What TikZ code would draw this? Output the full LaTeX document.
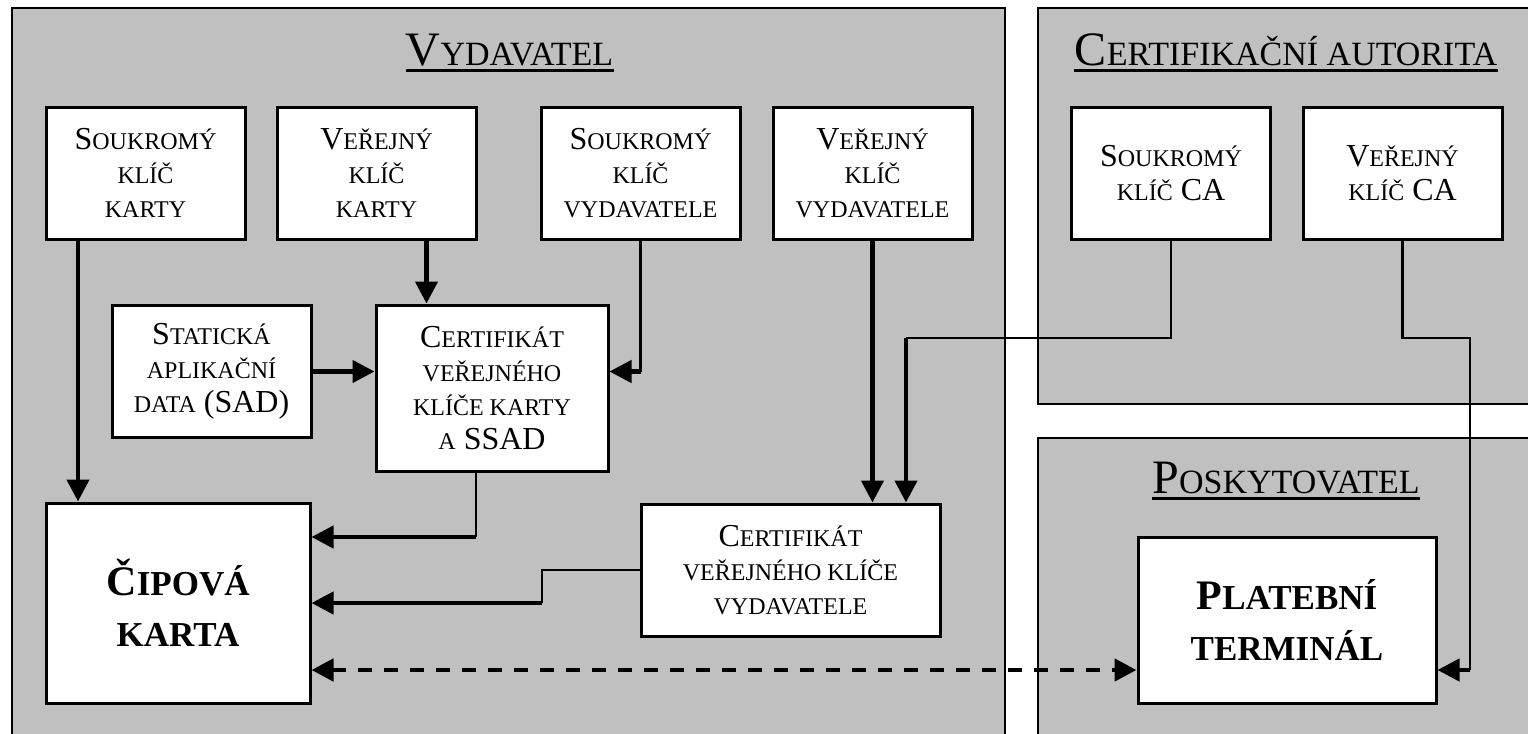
\documentclass[tikz,border=0pt]{standalone}
\usepackage{fontspec}
\setmainfont{Liberation Serif}
\usetikzlibrary{arrows.meta}
\definecolor{panelgray}{RGB}{192,192,192}
\newcommand{\kap}[2][12]{{\fontsize{#1}{17}\selectfont #2}}

\tikzset{
	panel/.style={draw=black, line width=1.2pt, fill=panelgray},
	box/.style={draw=black, line width=1.5pt, fill=white, align=center, inner sep=1pt,
		minimum width=99.5pt, minimum height=66pt, font=\fontsize{16}{17}\selectfont},
	bigbox/.style={box, font=\bfseries\fontsize{21}{25.5}\selectfont},
	title/.style={anchor=base, inner sep=0pt, font=\fontsize{24}{26}\selectfont},
	uline/.style={line width=1.35pt},
	arr/.style={line width=2.2pt, -{Triangle[length=11pt,width=11pt]}},
	wire/.style={line width=1.1pt},
	darr/.style={line width=2.4pt, dash pattern=on 7pt off 6pt,
		{Triangle[length=11pt,width=11pt]}-{Triangle[length=11pt,width=11pt]}}
}

\begin{document}
\begin{tikzpicture}[x=0.5pt, y=-0.5pt]
	\useasboundingbox (0,0) rectangle (1528,734);
	\clip (0,0) rectangle (1528,734);
	% panels
	\draw[panel] (12,8) rectangle (1005,770);
	\draw[panel] (1038,8) rectangle (1570,404);
	\draw[panel] (1038,438) rectangle (1570,770);
	\node[title] (tvyd) at (509.5,65) {V\kap[17]{YDAVATEL}};
	\node[title] (tca) at (1286,65) {C\kap[17]{ERTIFIKAČNÍ AUTORITA}};
	\node[title] (tpos) at (1286,493) {P\kap[17]{OSKYTOVATEL}};
	\foreach \t in {tvyd,tca,tpos}
		\draw[uline] ([yshift=-2.7pt]\t.base west) -- ([yshift=-2.7pt]\t.base east);

	% keys
	\node[box] (skk) at (145.5,173) {S\kap{OUKROMÝ}\\\kap{KLÍČ}\\\kap{KARTY}};
	\node[box] (vkk) at (376.5,173) {V\kap{EŘEJNÝ}\\\kap{KLÍČ}\\\kap{KARTY}};
	\node[box] (skv) at (640.5,173) {S\kap{OUKROMÝ}\\\kap{KLÍČ}\\\kap{VYDAVATELE}};
	\node[box] (vkv) at (872.5,173) {V\kap{EŘEJNÝ}\\\kap{KLÍČ}\\\kap{VYDAVATELE}};
	\node[box] (skca) at (1171,173) {S\kap{OUKROMÝ}\\\kap{KLÍČ} CA};
	\node[box] (vkca) at (1402.5,173) {V\kap{EŘEJNÝ}\\\kap{KLÍČ} CA};

	% data, certificates
	\node[box] (sad) at (211.5,371.5) {S\kap{TATICKÁ}\\\kap{APLIKAČNÍ}\\\kap{DATA} (SAD)};
	\node[box, minimum width=116pt, minimum height=83pt] (cpk) at (492,388)
		{C\kap{ERTIFIKÁT}\\\kap{VEŘEJNÉHO}\\\kap{KLÍČE KARTY}\\\kap{A} SSAD};
	\node[box, minimum width=149.5pt] (cpv) at (790.5,570)
		{C\kap{ERTIFIKÁT}\\\kap{VEŘEJNÉHO KLÍČE}\\\kap{VYDAVATELE}};

	% card, terminal
	\node[bigbox, minimum width=132pt, minimum height=100pt] (cip) at (178,603)
		{Č\kap[17.5]{IPOVÁ}\\\kap[17.5]{KARTA}};
	\node[bigbox, minimum width=149pt, minimum height=83pt] (term) at (1287,620)
		{P\kap[17.5]{LATEBNÍ}\\\kap[17.5]{TERMINÁL}};

	% bends
	\coordinate (k2) at (476,537);
	\coordinate (k4) at (542,603);
	\coordinate (k5) at (906,338);
	\coordinate (k6) at (1470,338);
	\coordinate (k7) at (1470,670);

	\draw[arr] ([xshift=-33.75pt]skk.south) -- ([xshift=-33.75pt]skk.south |- cip.north);
	\draw[arr] ([xshift=25pt]vkk.south) -- ([xshift=25pt]vkk.south |- cpk.north);
	\draw[arr] (sad.east) -- (sad.east -| cpk.west);
	\draw[wire] (skv.south) -- (skv.south |- sad.east) coordinate (k1);
	\draw[arr] (k1) -- (k1 -| cpk.east);
	\draw[wire] (k2 |- cpk.south) -- (k2);
	\draw[arr] (k2) -- (k2 -| cip.east);
	\draw[wire] (cpv.west) -| (k4);
	\draw[arr] (k4) -- (cip.east);
	\draw[arr] (vkv.south) -- (vkv.south |- cpv.north);
	\draw[wire] (skca.south) |- (k5);
	\draw[arr] (k5) -- (k5 |- cpv.north);
	\draw[wire] (vkca.south) |- (k6) -- (k7);
	\draw[arr] (k7) -- (k7 -| term.east);
	\draw[darr] (cip.east |- k7) -- (term.west |- k7);
\end{tikzpicture}
\end{document}
